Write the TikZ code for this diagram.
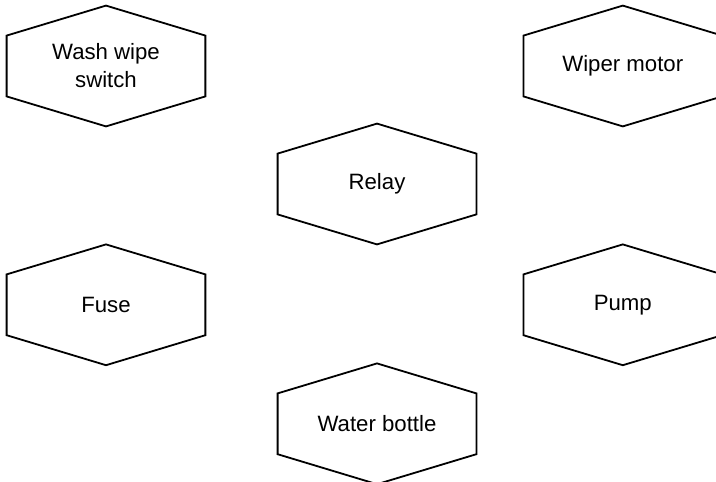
\documentclass[tikz,border=0pt]{standalone}
\usepackage{fontspec}
\setmainfont{Liberation Sans}
\usetikzlibrary{positioning}

\begin{document}
\begin{tikzpicture}[
  part/.style={minimum width=99bp, minimum height=60bp, inner sep=0pt,
               align=center, font=\fontsize{11.1bp}{14bp}\selectfont},
  hexline/.style={draw, line width=0.9bp, line join=miter},
  ]
  \useasboundingbox (-53bp,-208bp) rectangle (305bp,33bp);

  \node[part] (switch) at (0,0) {Wash wipe\\switch};
  \node[part, right=159bp of switch] (motor) {Wiper motor};
  \node[part] (relay) at (135.5bp,-59bp) {Relay};
  \node[part, below=59bp of switch] (fuse) {Fuse};
  \node[part, below=59bp of motor] (pump) {Pump};
  \node[part, below=59.5bp of relay] (bottle) {Water bottle};

  % hexagon outline round every part
  \foreach \n in {switch,motor,relay,fuse,pump,bottle}
    \path[hexline] (\n.north) -- ([yshift=-15bp]\n.north east)
      -- ([yshift=15bp]\n.south east) -- (\n.south)
      -- ([yshift=15bp]\n.south west) -- ([yshift=-15bp]\n.north west) -- cycle;
\end{tikzpicture}
\end{document}
